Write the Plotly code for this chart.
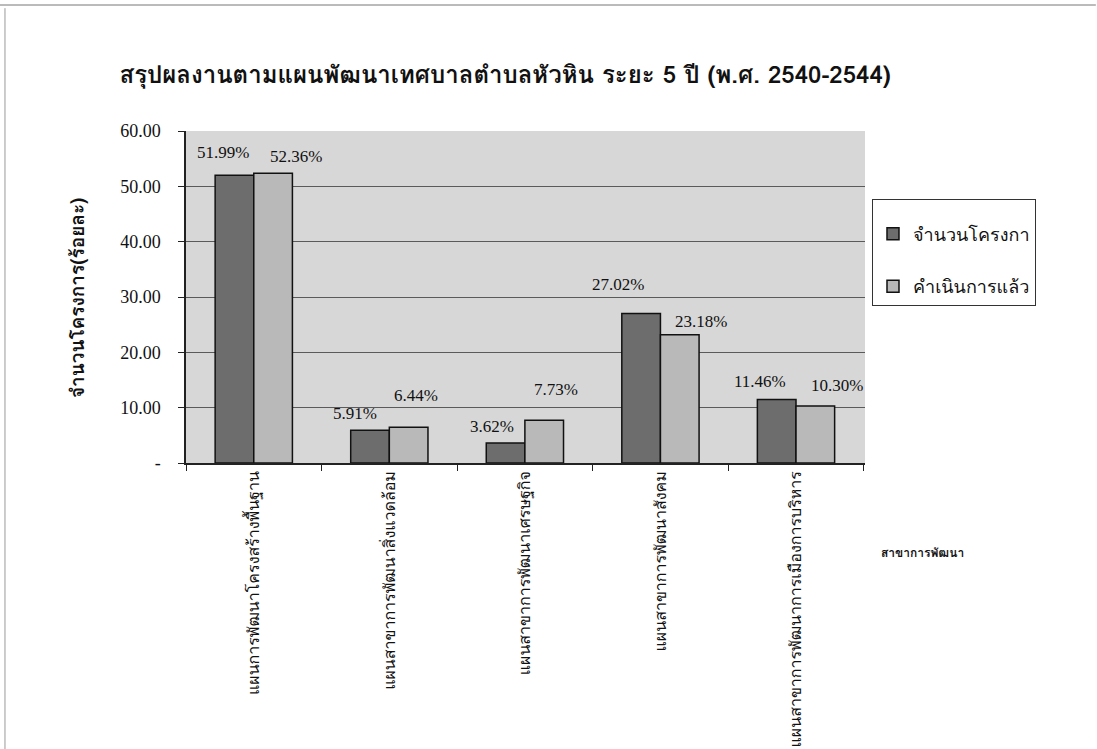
import plotly.graph_objects as go

categories = [
    "แผนการพัฒนาโครงสร้างพื้นฐาน",
    "แผนสาขาการพัฒนาสิ่งแวดล้อม",
    "แผนสาขาการพัฒนาเศรษฐกิจ",
    "แผนสาขาการพัฒนาสังคม",
    "แผนสาขาการพัฒนาการเมืองการบริหาร",
]
projects = [51.99, 5.91, 3.62, 27.02, 11.46]
completed = [52.36, 6.44, 7.73, 23.18, 10.30]
series_names = ["จำนวนโครงกา", "คำเนินการแล้ว"]
y_tickvals = [0, 10, 20, 30, 40, 50, 60]
y_ticktext = ["-", "10.00", "20.00", "30.00", "40.00", "50.00", "60.00"]

title_text = "สรุปผลงานตามแผนพัฒนาเทศบาลตำบลหัวหิน ระยะ 5 ปี (พ.ศ. 2540-2544)"
y_title = "จำนวนโครงการ(ร้อยละ)"
x_title = "สาขาการพัฒนา"

# label offsets (px) relative to category centre / bar top
proj_dx = [-31, -34, -33, -42, -36]
proj_dy = [23, 17, 16, 29, 18]
comp_dx = [42, 27, 31, 41, 41]
comp_dy = [17, 32, 31, 13, 21]

thai = "Norasi, Kinnari, Garuda, Loma, Noto Serif Thai, Noto Sans Thai, sans-serif"
serif = "Liberation Serif, Times New Roman, serif"

fig = go.Figure()
fig.add_trace(go.Bar(
    x=categories, y=projects, name=series_names[0], legendgroup="a",
    marker=dict(color="#6d6d6d", line=dict(color="#111111", width=1.5)),
))
fig.add_trace(go.Bar(
    x=categories, y=completed, name=series_names[1], legendgroup="b",
    marker=dict(color="#b9b9b9", line=dict(color="#111111", width=1.5)),
))

for i, c in enumerate(categories):
    fig.add_annotation(x=c, y=projects[i], text=f"{projects[i]:.2f}%", showarrow=False,
                       xshift=proj_dx[i], yshift=proj_dy[i], xanchor="center", yanchor="middle",
                       font=dict(family=serif, size=17, color="#111111"))
    fig.add_annotation(x=c, y=completed[i], text=f"{completed[i]:.2f}%", showarrow=False,
                       xshift=comp_dx[i], yshift=comp_dy[i], xanchor="center", yanchor="middle",
                       font=dict(family=serif, size=17, color="#111111"))

fig.add_annotation(xref="paper", yref="paper", x=-0.1605, y=0.497, text=f"<b>{y_title}</b>",
                   textangle=-90, showarrow=False, xanchor="center", yanchor="middle",
                   font=dict(family=thai, size=19, color="#111111"))
fig.add_annotation(xref="paper", yref="paper", x=1.084, y=-0.271, text=f"<b>{x_title}</b>",
                   showarrow=False, xanchor="center", yanchor="middle",
                   font=dict(family=thai, size=12, color="#111111"))

# page frame lines
fig.add_shape(type="line", xref="paper", yref="paper", x0=-0.274, x1=1.34, y0=1.3795, y1=1.3795,
              line=dict(color="#777777", width=1))
fig.add_shape(type="line", xref="paper", yref="paper", x0=-0.2666, x1=-0.2666, y0=1.37, y1=-0.87,
              line=dict(color="#999999", width=1))

fig.update_layout(
    width=1097, height=749,
    margin=dict(l=186, r=232, t=131, b=286, autoexpand=False),
    paper_bgcolor="white", plot_bgcolor="#d7d7d7",
    barmode="group", bargap=0.43, bargroupgap=0.0,
    title=dict(text=f"<b>{title_text}</b>", x=0.47, xref="paper", xanchor="center",
               y=1 - 75 / 749, yref="container", yanchor="middle",
               font=dict(family=thai, size=24, color="#111111")),
    showlegend=True,
    legend=dict(x=1.0103, y=0.795, xanchor="left", yanchor="top",
                bgcolor="white", bordercolor="#333333", borderwidth=1,
                font=dict(family=thai, size=18, color="#111111"),
                title=dict(text=" ", font=dict(size=12)),
                tracegroupgap=26, traceorder="grouped"),
    xaxis=dict(type="category", showline=True, linecolor="#222222", linewidth=1.5, mirror=False,
               ticks="outside", ticklen=6, tickcolor="#222222", tickson="boundaries",
               tickangle=-90, tickfont=dict(family=thai, size=16, color="#111111"),
               showgrid=False, automargin=False),
    yaxis=dict(range=[0, 60], tickvals=y_tickvals, ticktext=y_ticktext,
               showline=True, linecolor="#222222", linewidth=1.5,
               ticks="outside", ticklen=6, tickcolor="#222222",
               tickfont=dict(family=serif, size=18, color="#111111"),
               ticklabelstandoff=14,
               showgrid=True, gridcolor="#5a5a5a", gridwidth=1, zeroline=False,
               automargin=False),
)

fig.write_html("out.html", config={"displayModeBar": False},
               post_script="document.body.style.margin='0';document.body.style.overflow='hidden';")
